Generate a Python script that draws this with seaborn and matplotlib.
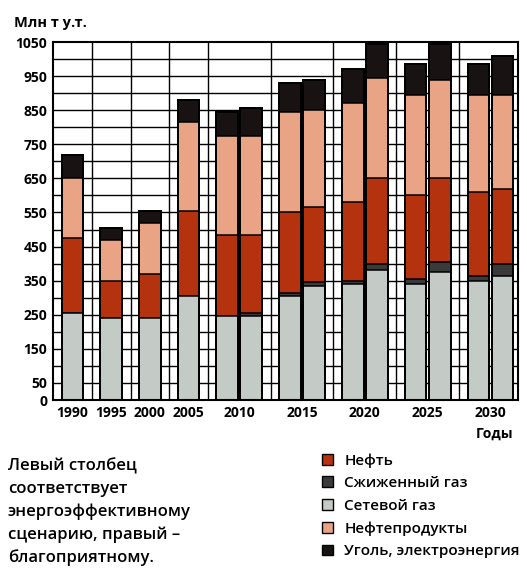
import numpy as np
import pandas as pd
import matplotlib
matplotlib.use("Agg")
import matplotlib.pyplot as plt
import seaborn as sns
from matplotlib.patches import Patch

# Consumption structure, mln t of fuel equivalent (one bar per year/scenario)
years = [1990, 1995, 2000, 2005, 2010, 2010, 2015, 2015, 2020, 2020, 2025, 2025, 2030, 2030]
scenario = ["факт", "факт", "факт", "факт",
            "энергоэффективный", "благоприятный",
            "энергоэффективный", "благоприятный",
            "энергоэффективный", "благоприятный",
            "энергоэффективный", "благоприятный",
            "энергоэффективный", "благоприятный"]
network_gas = [255, 240, 240, 305, 245, 245, 305, 335, 340, 380, 340, 375, 350, 365]
liquefied_gas = [0, 0, 0, 0, 0, 10, 10, 10, 10, 20, 15, 30, 15, 35]
oil = [220, 110, 130, 250, 240, 230, 235, 220, 230, 250, 245, 245, 245, 220]
oil_products = [175, 120, 150, 260, 290, 290, 295, 285, 290, 295, 295, 290, 285, 275]
coal_power = [70, 35, 35, 65, 70, 80, 85, 90, 100, 100, 90, 105, 90, 115]

y_ticks = [0, 50, 150, 250, 350, 450, 550, 650, 750, 850, 950, 1050]
note_lines = ["Левый столбец", "соответствует", "энергоэффективному",
              "сценарию, правый –", "благоприятному."]

layers = [
    ("Сетевой газ", network_gas, "#c4cac6"),
    ("Сжиженный газ", liquefied_gas, "#3a3a3a"),
    ("Нефть", oil, "#b5320f"),
    ("Нефтепродукты", oil_products, "#e9a486"),
    ("Уголь, электроэнергия", coal_power, "#181212"),
]
legend_order = ["Нефть", "Сжиженный газ", "Сетевой газ", "Нефтепродукты",
                "Уголь, электроэнергия"]

FONT = ["Open Sans", "DejaVu Sans"]
plt.rcParams["font.family"] = FONT

# Bar slots: bars of the same year sit side by side, years are separated by a gap
PAIR_STEP, GROUP_STEP, BAR_W = 1.0, 1.6, 0.9
pos = []
for i, yr in enumerate(years):
    if i == 0:
        pos.append(0.0)
    else:
        pos.append(pos[-1] + (PAIR_STEP if yr == years[i - 1] else GROUP_STEP))
pos = np.array(pos)

df = pd.DataFrame({"year": years, "scenario": scenario, "pos": pos})
cum = np.cumsum(np.array([l[1] for l in layers], dtype=float), axis=0)
for (name, _, _), c in zip(layers, cum):
    df[name] = c

fig = plt.figure(figsize=(5.27, 5.70), dpi=100)
ax = fig.add_axes([53 / 527, 1 - 400 / 570, 465 / 527, 358 / 570])

# background grid
for v in range(50, 1050, 50):
    ax.axhline(v, color="black", lw=1.0, zorder=1)
bounds = []
for a, b in zip(range(len(years) - 1), range(1, len(years))):
    if years[a] != years[b]:
        bounds.append((pos[a] + pos[b]) / 2)
for xb in bounds:
    ax.axvline(xb, color="black", lw=1.0, zorder=1)

# stacked bars: cumulative totals drawn from the tallest layer down
for (name, _, color) in reversed(layers):
    sns.barplot(data=df, x="pos", y=name, native_scale=True, orient="x",
                width=BAR_W, color=color, saturation=1, errorbar=None,
                edgecolor="black", linewidth=1.1, ax=ax, zorder=3)
sns.barplot(data=df, x="pos", y=layers[-1][0], native_scale=True, orient="x",
            width=BAR_W, color="black", fill=False, saturation=1, errorbar=None,
            linewidth=1.4, ax=ax, zorder=4)

ax.set_ylim(0, 1050)
ax.set_xlim(pos[0] - 0.81, pos[-1] + 0.64)
ax.set_yticks(y_ticks)
ax.set_yticklabels([str(t) for t in y_ticks], fontsize=10, fontweight="bold")
centers = df.groupby("year")["pos"].mean()
ax.set_xticks(centers.values)
ax.set_xticklabels([str(y) for y in centers.index], fontsize=10, fontweight="bold")
ax.tick_params(length=0, pad=4)
ax.set_xlabel("")
ax.set_ylabel("")
for sp in ax.spines.values():
    sp.set_visible(True)
    sp.set_color("black")
    sp.set_linewidth(1.5)
    sp.set_zorder(5)

fig.text(14 / 527, 1 - 23 / 570, "Млн т у.т.", fontsize=10.5, fontweight="bold",
         va="center", ha="left")
fig.text(495 / 527, 1 - 434 / 570, "Годы", fontsize=10,
         fontweight="bold", va="center", ha="center")

for i, line in enumerate(note_lines):
    fig.text(8 / 527, 1 - (466 + 23 * i) / 570, line, fontsize=12,
             fontweight="semibold", va="center", ha="left")

color_of = {n: c for n, _, c in layers}
handles = [Patch(facecolor=color_of[n], edgecolor="black", linewidth=1.0, label=n)
           for n in legend_order]
fig.legend(handles=handles, loc="upper left", bbox_to_anchor=(322 / 527, 1 - 453 / 570),
           frameon=False, handlelength=0.7, handleheight=0.7,
           handletextpad=0.75, labelspacing=0.56, borderaxespad=0, borderpad=0,
           prop={"weight": "semibold", "size": 11})

fig.savefig("out.png", dpi=100)
